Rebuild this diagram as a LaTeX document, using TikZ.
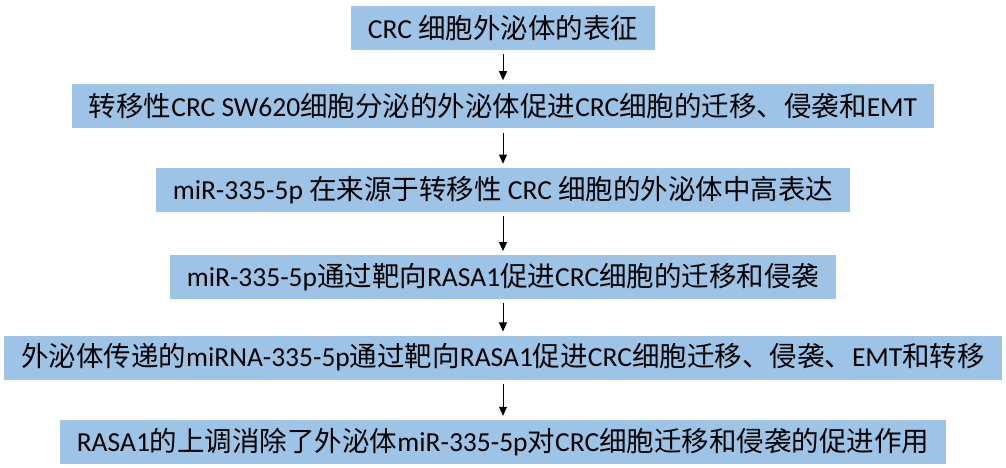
\documentclass[tikz,border=0pt]{standalone}
\usepackage{fontspec}
\setmainfont{Carlito}
\newfontfamily\cjk{Noto Sans CJK SC}
\newcommand{\zh}[1]{{\cjk #1}}
\usetikzlibrary{positioning,arrows.meta}
\definecolor{boxblue}{HTML}{9DC3E6}

\begin{document}
\begin{tikzpicture}[stepbox/.style = {fill=boxblue, minimum height=44pt, inner xsep=17pt, inner ysep=0pt, font=\fontsize{27.5}{30}\selectfont}, node distance={38pt},
                    link/.style={-{Triangle[length=9pt, width=8pt]}, line width=0.8pt, shorten <=4pt, shorten >=4pt}]
    \useasboundingbox (0,0) rectangle (1006pt,-467pt);
        \node[stepbox] (1) at (503pt,-28pt) {CRC \zh{细胞外泌体的表征}};
        \node[stepbox] (2) [below=34pt of 1] {\zh{转移性}CRC SW620\zh{细胞分泌的外泌体促进}CRC\zh{细胞的迁移、侵袭和}EMT};
        \node[stepbox] (3) [below=39pt of 2] {miR-335-5p \zh{在来源于转移性} CRC \zh{细胞的外泌体中高表达}};
        \node[stepbox] (4) [below=43pt of 3] {miR-335-5p\zh{通过靶向}RASA1\zh{促进}CRC\zh{细胞的迁移和侵袭}};
        \node[stepbox] (5) [below=36pt of 4] {\zh{外泌体传递的}miRNA-335-5p\zh{通过靶向}RASA1\zh{促进}CRC\zh{细胞迁移、侵袭、}EMT\zh{和转移}};
        \node[stepbox] (6) [below=40pt of 5] {RASA1\zh{的上调消除了外泌体}miR-335-5p\zh{对}CRC\zh{细胞迁移和侵袭的促进作用}};
        \draw[link] (1) -- (2);
        \draw[link] (2) -- (3);
        \draw[link] (3) -- (4);
        \draw[link] (4) -- (5);
        \draw[link] (5) -- (6);
    \end{tikzpicture}
\end{document}
